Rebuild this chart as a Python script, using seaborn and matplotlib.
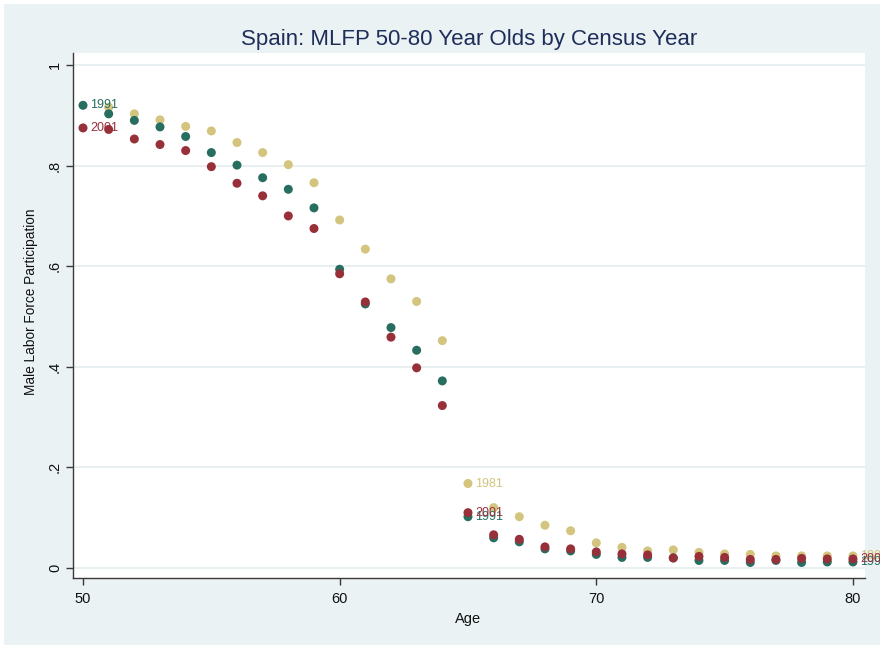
import numpy as np
import pandas as pd
import matplotlib
matplotlib.use("Agg")
import matplotlib.pyplot as plt
import seaborn as sns
from matplotlib.patches import Rectangle

# Male labor force participation by single year of age, Spain census years
ages = list(range(50, 81))

mlfp_1981 = [np.nan, 0.916, 0.903, 0.891, 0.878, 0.869, 0.846, 0.826, 0.802, 0.766,
             0.692, 0.634, 0.575, 0.530, 0.452, 0.168, 0.120, 0.102, 0.085, 0.074,
             0.050, 0.041, 0.034, 0.036, 0.031, 0.028, 0.027, 0.024, 0.024, 0.024,
             0.024]
mlfp_1991 = [0.920, 0.903, 0.890, 0.877, 0.858, 0.826, 0.801, 0.776, 0.753, 0.716,
             0.594, 0.525, 0.478, 0.433, 0.372, 0.102, 0.060, 0.052, 0.038, 0.034,
             0.027, 0.021, 0.021, 0.020, 0.015, 0.015, 0.011, 0.015, 0.011, 0.012,
             0.012]
mlfp_2001 = [0.875, 0.872, 0.853, 0.842, 0.830, 0.798, 0.765, 0.740, 0.700, 0.675,
             0.585, 0.529, 0.459, 0.398, 0.323, 0.110, 0.066, 0.057, 0.042, 0.038,
             0.032, 0.028, 0.026, 0.020, 0.023, 0.021, 0.017, 0.017, 0.019, 0.018,
             0.018]

census_years = ["1981", "1991", "2001"]
series_colors = ["#D3C47E", "#276E61", "#98303A"]
label_ages = [50, 65, 80]
y_ticks = [0, 0.2, 0.4, 0.6, 0.8, 1.0]
y_tick_labels = ["0", ".2", ".4", ".6", ".8", "1"]
x_ticks = [50, 60, 70, 80]

df = pd.DataFrame({
    "age": ages * 3,
    "mlfp": mlfp_1981 + mlfp_1991 + mlfp_2001,
    "year": sum([[y] * len(ages) for y in census_years], []),
}).dropna()

sns.set_theme(style="white")
plt.rcParams["font.family"] = ["Liberation Sans", "DejaVu Sans"]

bg = "#EAF2F3"
fig = plt.figure(figsize=(8.8, 6.45), dpi=100, facecolor="white")
fig.patches.append(Rectangle((4 / 880, 0), 1, 1 - 4 / 645, transform=fig.transFigure,
                             facecolor=bg, edgecolor="none", zorder=-10))
ax = fig.add_axes([73 / 880, 1 - 578 / 645, (865 - 73) / 880, (578 - 53) / 645])
ax.set_facecolor("white")

palette = dict(zip(census_years, series_colors))
for yr in census_years:
    sub = df[df["year"] == yr]
    sns.scatterplot(data=sub, x="age", y="mlfp", color=palette[yr], s=42,
                    edgecolor="none", linewidth=0, ax=ax, legend=False, zorder=3)
    for a in label_ages:
        row = sub[sub["age"] == a]
        if len(row):
            ax.text(a + 0.27, float(row["mlfp"].iloc[0]), yr, color=palette[yr],
                    fontsize=9, va="center", ha="left", clip_on=False, zorder=4)

ax.set_xlim(49.61, 80.47)
ax.set_ylim(-0.0199, 1.024)
ax.set_yticks(y_ticks)
ax.set_yticklabels(y_tick_labels, rotation=90, va="center")
ax.set_xticks(x_ticks)
ax.yaxis.grid(True, color="#E8EFF1", linewidth=1.4)
ax.xaxis.grid(False)
ax.set_axisbelow(True)

for side in ["top", "right"]:
    ax.spines[side].set_visible(False)
for side in ["left", "bottom"]:
    ax.spines[side].set_color("#3A3A3A")
    ax.spines[side].set_linewidth(1.0)

ax.tick_params(axis="x", which="major", direction="out", length=5, width=1,
               color="#3A3A3A", labelsize=10.5, labelcolor="#111111", pad=5,
               bottom=True)
ax.tick_params(axis="y", which="major", direction="out", length=5, width=1,
               color="#3A3A3A", labelsize=10.5, labelcolor="#111111", pad=3,
               left=True)

ax.set_xlabel("Age", fontsize=10.5, color="#111111")
ax.xaxis.set_label_coords((468 - 73) / 792, -(612 - 578) / 525)
ax.set_ylabel("Male Labor Force Participation", fontsize=9.8, color="#111111")
ax.yaxis.set_label_coords(-(73 - 38) / 792, (578 - 302) / 525)
ax.set_title("Spain: MLFP 50-80 Year Olds by Census Year", fontsize=16,
             color="#1F2D5A", pad=6)

fig.savefig("out.png", dpi=100, facecolor=fig.get_facecolor())
